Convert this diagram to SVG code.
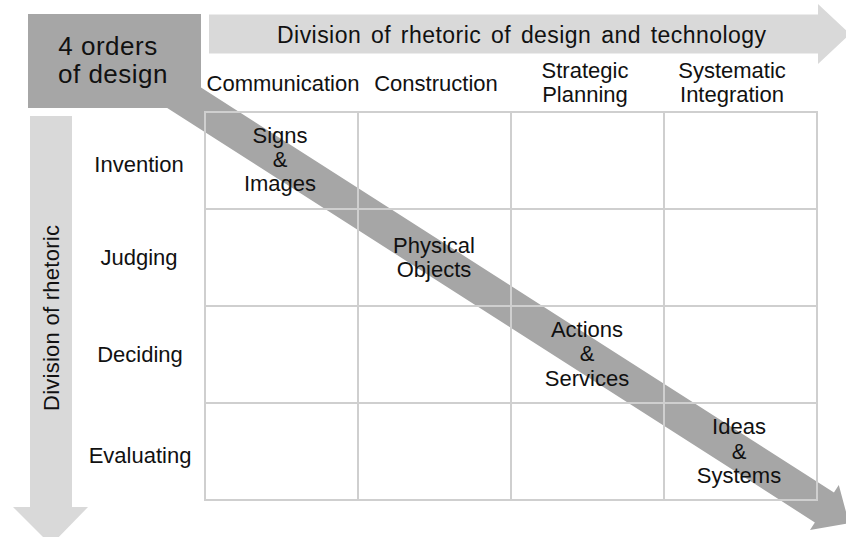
<svg xmlns="http://www.w3.org/2000/svg" width="846" height="537" viewBox="0 0 846 537">
  <style>
    text { font-family: "Liberation Sans", Arial, sans-serif; font-size: 22px; fill: #111; text-anchor: middle; }
    .big { font-size: 26px; letter-spacing: 0.5px; }
    .title { font-size: 23px; word-spacing: 3px; }
    .light { fill: #d9d9d9; }
    .dark { fill: #a6a6a6; }
    .grid { stroke: #cfcfcf; stroke-width: 2; fill: none; }
  </style>
  <rect width="846" height="537" fill="#ffffff"/>

  <g id="arrow-top">
    <path class="light" d="M209,14.5 H818 V4 L850,34 L818,64 V53.5 H209 Z"/>
    <text class="title" x="521.5" y="43" textLength="489" lengthAdjust="spacing">Division of rhetoric of design and technology</text>
  </g>

  <g id="arrow-left">
    <path class="light" d="M30,116 H72 V507 H88 L51,545 L13,507 H30 Z"/>
    <text transform="translate(59,318) rotate(-90)" textLength="186" lengthAdjust="spacing">Division of rhetoric</text>
  </g>

  <g id="diagonal">
    <path class="dark" transform="translate(433,257) rotate(32.62)" d="M-340,-17.7 H464.7 V-26.7 L494,0 L464.7,26.7 V17.7 H-340 Z"/>
  </g>

  <g id="box-orders">
    <rect class="dark" x="28" y="14" width="173" height="94"/>
    <text class="big" x="108" y="55">4 orders</text>
    <text class="big" x="113" y="83">of design</text>
  </g>

  <g id="grid">
    <rect class="grid" x="205" y="112" width="612" height="388"/>
    <line class="grid" x1="358" y1="112" x2="358" y2="500"/>
    <line class="grid" x1="511" y1="112" x2="511" y2="500"/>
    <line class="grid" x1="664" y1="112" x2="664" y2="500"/>
    <line class="grid" x1="205" y1="209" x2="817" y2="209"/>
    <line class="grid" x1="205" y1="306" x2="817" y2="306"/>
    <line class="grid" x1="205" y1="403" x2="817" y2="403"/>
  </g>

  <g id="col-headers">
    <text x="283" y="91">Communication</text>
    <text x="436" y="91">Construction</text>
    <text x="585" y="78">Strategic</text>
    <text x="585" y="102">Planning</text>
    <text x="732" y="78">Systematic</text>
    <text x="732" y="102">Integration</text>
  </g>

  <g id="row-headers">
    <text x="139" y="172">Invention</text>
    <text x="139" y="265">Judging</text>
    <text x="140" y="362">Deciding</text>
    <text x="140" y="463">Evaluating</text>
  </g>

  <g id="cell-signs">
    <text x="280" y="143">Signs</text>
    <text x="280" y="167">&amp;</text>
    <text x="280" y="191">Images</text>
  </g>
  <g id="cell-physical">
    <text x="434" y="253">Physical</text>
    <text x="434" y="277">Objects</text>
  </g>
  <g id="cell-actions">
    <text x="587" y="337">Actions</text>
    <text x="587" y="361">&amp;</text>
    <text x="587" y="386">Services</text>
  </g>
  <g id="cell-ideas">
    <text x="739" y="434">Ideas</text>
    <text x="739" y="459">&amp;</text>
    <text x="739" y="483">Systems</text>
  </g>
</svg>
